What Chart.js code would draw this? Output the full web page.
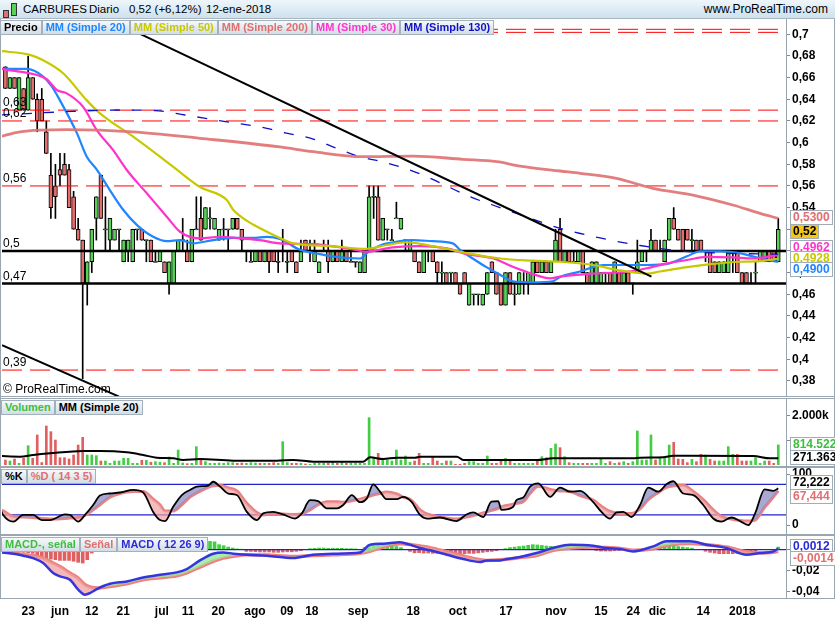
<!DOCTYPE html>
<html>
<head>
<meta charset="utf-8">
<script src="https://cdn.jsdelivr.net/npm/chart.js@4.4.1/dist/chart.umd.min.js"></script>
<style>
  body { margin: 0; width: 835px; height: 620px; position: relative; overflow: hidden; background: #fff;
         font-family: "Liberation Sans", Arial, sans-serif; }
  canvas { position: absolute; left: 0; }
  .hdr { position: absolute; left: 0; top: 0; width: 835px; height: 18px; font-size: 11.5px; line-height: 18px;
         background: linear-gradient(#eef6fb, #cde1ed); border-bottom: 1px solid #a9b6bf; z-index: 6; }
  .hdr span { position: absolute; top: 0; }
  .ico { position: absolute; border: 1px solid #333; }
  .row { position: absolute; left: 0; display: flex; z-index: 5; }
  .lg { height: 13px; line-height: 13px; font-weight: bold; font-size: 11px; padding: 0 3px; white-space: nowrap;
        background: linear-gradient(#f6f9fb, #d2dde5); border: 1px solid #a2b1bc; }
  .vb { position: absolute; left: 790px; height: 13px; line-height: 13px; font-weight: bold; font-size: 12px;
        padding: 0 2px; background: #fff; border: 1px solid #a0acb6; z-index: 5; white-space: nowrap; }
  .sep { position: absolute; background: #9aa6b0; z-index: 4; }
</style>
</head>
<body>
<canvas id="price"></canvas>
<canvas id="volume"></canvas>
<canvas id="stoch"></canvas>
<canvas id="macd"></canvas>

<div class="hdr">
  <div class="ico" style="left:3px;top:10px;width:4px;height:6px;background:#e46e6e"></div>
  <div class="ico" style="left:11px;top:3px;width:4px;height:11px;background:#57d157"></div>
  <span style="left:23px">CARBURES</span>
  <span style="left:89px">Diario</span>
  <span style="left:129px">0,52 (+6,12%)</span>
  <span style="left:206px">12-ene-2018</span>
  <span style="right:7px;font-size:12px">www.ProRealTime.com</span>
</div>

<div class="row" style="top:20px">
  <span class="lg" style="color:#000">Precio</span>
  <span class="lg" style="color:#1f86ff">MM (Simple 20)</span>
  <span class="lg" style="color:#c8c800">MM (Simple 50)</span>
  <span class="lg" style="color:#e07070">MM (Simple 200)</span>
  <span class="lg" style="color:#ff33cc">MM (Simple 30)</span>
  <span class="lg" style="color:#1010c8">MM (Simple 130)</span>
</div>
<div class="row" style="top:400px;left:1px">
  <span class="lg" style="color:#3cbf3c">Volumen</span>
  <span class="lg" style="color:#000">MM (Simple 20)</span>
</div>
<div class="row" style="top:469px;left:1px">
  <span class="lg" style="color:#000">%K</span>
  <span class="lg" style="color:#e07070">%D ( 14 3 5)</span>
</div>
<div class="row" style="top:537px;left:1px">
  <span class="lg" style="color:#3cbf3c">MACD-, señal</span>
  <span class="lg" style="color:#e07070">Señal</span>
  <span class="lg" style="color:#2a2ad8">MACD ( 12 26 9)</span>
</div>

<div style="position:absolute;left:3px;top:382px;font-size:12px;z-index:5">© ProRealTime.com</div>

<div class="vb" style="top:210px;color:#e07070">0,5300</div>
<div class="vb" style="top:224px;color:#000;background:#f5c518">0,52</div>
<div class="vb" style="top:240px;color:#ff33cc">0,4962</div>
<div class="vb" style="top:251px;color:#c8c800">0,4928</div>
<div class="vb" style="top:262px;color:#1f86ff">0,4900</div>
<div class="vb" style="top:437px;color:#3cbf3c">814.522</div>
<div class="vb" style="top:450px;color:#000">271.363</div>
<div class="vb" style="top:475px;color:#000">72,222</div>
<div class="vb" style="top:489px;color:#e07070">67,444</div>
<div class="vb" style="top:539px;color:#2a2ad8">0,0012</div>
<div class="vb" style="top:551px;color:#e07070">-0,0014</div>

<div class="sep" style="left:0;top:396px;width:835px;height:1px"></div>
<div class="sep" style="left:0;top:398px;width:835px;height:1px"></div>
<div class="sep" style="left:0;top:466px;width:835px;height:2px"></div>
<div class="sep" style="left:0;top:534px;width:835px;height:2px"></div>
<div class="sep" style="left:0;top:598px;width:835px;height:1px"></div>
<div class="sep" style="left:0;top:18px;width:1px;height:581px"></div>
<div class="sep" style="left:834px;top:18px;width:1px;height:581px"></div>

<script>
// one candle per trading day, 16-may-2017 .. 12-ene-2018: [open, high, low, close]
const candles = [
  [0.67,0.67,0.65,0.65],[0.65,0.66,0.65,0.66],[0.66,0.66,0.65,0.65],[0.63,0.66,0.63,0.66],[0.65,0.65,0.63,0.63],
  [0.63,0.68,0.63,0.66],[0.66,0.66,0.64,0.64],[0.64,0.645,0.61,0.62],[0.64,0.65,0.62,0.62],[0.61,0.62,0.59,0.59],
  [0.57,0.59,0.53,0.54],[0.56,0.58,0.53,0.55],[0.575,0.59,0.56,0.57],[0.58,0.59,0.57,0.57],[0.575,0.58,0.54,0.54],
  [0.55,0.555,0.52,0.52],[0.52,0.53,0.51,0.51],[0.51,0.51,0.382,0.47],[0.47,0.49,0.45,0.49],[0.49,0.52,0.48,0.52],
  [0.53,0.55,0.51,0.55],[0.57,0.57,0.53,0.53],[0.52,0.55,0.50,0.52],[0.51,0.53,0.50,0.53],[0.51,0.52,0.51,0.52],
  [0.52,0.52,0.50,0.52],[0.49,0.51,0.49,0.51],[0.50,0.51,0.49,0.51],[0.49,0.52,0.49,0.52],[0.52,0.52,0.51,0.52],
  [0.52,0.52,0.51,0.51],[0.51,0.51,0.49,0.51],[0.51,0.51,0.49,0.49],[0.49,0.50,0.49,0.49],[0.49,0.50,0.49,0.50],
  [0.49,0.49,0.48,0.48],[0.47,0.49,0.46,0.49],[0.47,0.50,0.47,0.50],[0.50,0.51,0.50,0.51],[0.51,0.53,0.50,0.51],
  [0.50,0.51,0.49,0.49],[0.49,0.52,0.49,0.52],[0.52,0.55,0.52,0.52],[0.53,0.55,0.51,0.51],[0.52,0.54,0.52,0.54],
  [0.53,0.54,0.52,0.53],[0.52,0.53,0.52,0.53],[0.51,0.52,0.51,0.52],[0.52,0.53,0.51,0.52],[0.52,0.52,0.50,0.52],
  [0.52,0.53,0.52,0.53],[0.53,0.53,0.52,0.52],[0.52,0.52,0.50,0.51],[0.50,0.50,0.49,0.50],[0.49,0.50,0.49,0.49],
  [0.49,0.50,0.49,0.50],[0.50,0.50,0.49,0.49],[0.49,0.50,0.49,0.50],[0.50,0.50,0.48,0.49],[0.50,0.50,0.49,0.49],
  [0.49,0.50,0.48,0.49],[0.50,0.52,0.49,0.50],[0.49,0.50,0.48,0.49],[0.50,0.50,0.49,0.49],[0.49,0.49,0.48,0.48],
  [0.49,0.51,0.49,0.50],[0.51,0.51,0.50,0.50],[0.50,0.51,0.49,0.50],[0.49,0.51,0.49,0.50],[0.48,0.49,0.48,0.49],
  [0.50,0.51,0.50,0.50],[0.50,0.51,0.48,0.49],[0.49,0.50,0.49,0.50],[0.50,0.50,0.49,0.49],[0.49,0.51,0.49,0.50],
  [0.50,0.50,0.49,0.49],[0.49,0.50,0.49,0.49],[0.49,0.49,0.485,0.49],[0.48,0.49,0.48,0.49],[0.48,0.50,0.48,0.50],
  [0.50,0.56,0.50,0.55],[0.55,0.56,0.53,0.55],[0.55,0.56,0.51,0.51],[0.51,0.53,0.51,0.53],[0.52,0.52,0.51,0.52],
  [0.51,0.52,0.51,0.51],[0.53,0.545,0.53,0.53],[0.52,0.53,0.52,0.53],[0.51,0.51,0.50,0.51],[0.50,0.51,0.50,0.51],
  [0.50,0.50,0.49,0.49],[0.49,0.49,0.48,0.48],[0.48,0.50,0.48,0.50],[0.50,0.50,0.49,0.50],[0.50,0.50,0.49,0.49],
  [0.49,0.49,0.47,0.48],[0.48,0.49,0.47,0.48],[0.48,0.48,0.47,0.47],[0.48,0.48,0.47,0.48],[0.48,0.48,0.47,0.47],
  [0.47,0.47,0.46,0.46],[0.48,0.48,0.47,0.47],[0.45,0.47,0.45,0.47],[0.46,0.46,0.45,0.46],[0.46,0.46,0.45,0.46],
  [0.45,0.46,0.45,0.46],[0.46,0.48,0.46,0.48],[0.49,0.49,0.48,0.48],[0.48,0.48,0.46,0.46],[0.47,0.47,0.45,0.45],
  [0.45,0.48,0.45,0.48],[0.48,0.48,0.46,0.46],[0.46,0.47,0.45,0.46],[0.46,0.48,0.46,0.48],[0.47,0.48,0.46,0.47],
  [0.47,0.48,0.46,0.48],[0.47,0.49,0.47,0.49],[0.49,0.49,0.48,0.48],[0.48,0.49,0.48,0.49],[0.49,0.49,0.48,0.48],
  [0.48,0.49,0.48,0.49],[0.49,0.52,0.49,0.51],[0.52,0.53,0.49,0.49],[0.49,0.50,0.49,0.50],[0.50,0.50,0.49,0.49],
  [0.49,0.50,0.49,0.49],[0.49,0.50,0.49,0.50],[0.50,0.50,0.48,0.48],[0.48,0.48,0.47,0.47],[0.47,0.49,0.47,0.49],
  [0.47,0.49,0.47,0.49],[0.47,0.48,0.47,0.48],[0.48,0.48,0.47,0.48],[0.48,0.48,0.47,0.47],[0.47,0.49,0.47,0.49],
  [0.48,0.48,0.47,0.47],[0.47,0.48,0.47,0.48],[0.48,0.48,0.47,0.47],[0.47,0.47,0.46,0.47],[0.48,0.51,0.48,0.49],
  [0.49,0.50,0.49,0.50],[0.50,0.50,0.49,0.50],[0.50,0.52,0.50,0.51],[0.51,0.51,0.50,0.50],[0.50,0.51,0.50,0.50],
  [0.49,0.51,0.49,0.51],[0.51,0.53,0.51,0.53],[0.53,0.54,0.52,0.52],[0.52,0.52,0.51,0.51],[0.52,0.52,0.50,0.50],
  [0.52,0.52,0.51,0.51],[0.51,0.52,0.50,0.51],[0.51,0.51,0.50,0.50],[0.51,0.51,0.50,0.50],[0.50,0.50,0.49,0.50],
  [0.50,0.50,0.48,0.48],[0.49,0.49,0.48,0.48],[0.48,0.49,0.48,0.49],[0.48,0.49,0.48,0.49],[0.48,0.50,0.48,0.50],
  [0.49,0.50,0.48,0.49],[0.50,0.50,0.48,0.48],[0.48,0.48,0.47,0.47],[0.48,0.48,0.47,0.47],[0.47,0.48,0.47,0.47],
  [0.48,0.49,0.47,0.48],[0.49,0.50,0.49,0.50],[0.49,0.50,0.49,0.50],[0.50,0.50,0.49,0.49],[0.50,0.50,0.49,0.49],
  [0.49,0.53,0.49,0.52]
];

// daily volume, thousands of shares
const volumes = [
  203,162,243,68,270,784,270,1217,100,1582, 1352,1014,297,297,243,406,811,1122,406,406,
  379,162,162,68,162,162,270,270,68,68, 189,189,108,135,108,95,324,68,608,81,
  54,68,744,270,135,68,68,81,68,95, 95,68,81,68,95,81,68,68,68,95,
  68,946,95,68,68,68,41,27,68,68, 68,68,135,68,135,68,68,68,68,68,
  1920,270,473,203,203,162,608,203,365,108, 162,473,68,68,338,162,68,162,162,30,
  27,68,135,135,68,68,365,68,68,230, 270,203,68,68,68,68,68,230,338,297,
  676,852,703,338,95,68,68,68,68,68, 68,270,68,135,68,95,135,68,135,1379,
  203,203,1217,203,297,297,811,919,243,230, 95,230,135,433,406,230,162,162,162,744,
  433,433,162,162,162,297,68,162,162,68, 815
];

// moving averages: [day index, value]
const ma20 = [[-1.2,0.668],[4.7,0.668],[8.3,0.661],[10.2,0.652],[12,0.639],[15.7,0.609],[17.9,0.587],[20.1,0.575],
  [23,0.556],[25.9,0.538],[28.9,0.524],[32.5,0.513],[35.5,0.509],[38.4,0.510],[41.3,0.507],[45.7,0.510],[50.1,0.512],
  [54.5,0.512],[57.5,0.513],[60.4,0.511],[64.8,0.501],[69.2,0.497],[73.6,0.494],[78,0.493],[79.5,0.498],[82.4,0.505],
  [86.8,0.509],[89.6,0.510],[94,0.509],[98.4,0.507],[100,0.501],[102.8,0.493],[105.8,0.485],[108.8,0.478],[111.6,0.472],
  [116,0.471],[120.4,0.472],[122,0.476],[126.4,0.481],[129.2,0.485],[131.4,0.487],[136.7,0.487],[141.1,0.487],
  [145.5,0.488],[149.9,0.495],[152.8,0.4995],[157.2,0.4995],[161.5,0.498],[164.4,0.495],[167.5,0.492],[170,0.490]];
const ma50 = [[-1.2,0.6846],[5.4,0.681],[8.3,0.676],[12.7,0.664],[17.9,0.639],[20.8,0.627],[28.1,0.6055],[34,0.587],
  [37.7,0.575],[42.8,0.559],[48.7,0.547],[50.1,0.538],[52.9,0.5285],[56,0.521],[60.4,0.512],[63.3,0.507],[71.4,0.5045],
  [79.5,0.502],[83.9,0.5055],[88.3,0.508],[92.7,0.5055],[97.1,0.502],[101.5,0.498],[108.8,0.493],[116,0.491],[122,0.490],
  [129.2,0.487],[135.2,0.482],[141.1,0.479],[144,0.481],[149.9,0.485],[155.6,0.488],[161.5,0.490],[166,0.4905],[170,0.4928]];
const ma200 = [[-1.2,0.6055],[3.2,0.610],[13.5,0.612],[28.1,0.610],[42.8,0.604],[60.4,0.596],[67.7,0.5916],[78.6,0.587],
  [89.6,0.5876],[100.6,0.5846],[108.1,0.5824],[113.2,0.5784],[122,0.5738],[126.4,0.5717],[134.4,0.567],[142.4,0.5578],
  [151.2,0.5516],[160,0.5424],[166,0.5347],[170,0.530]];
const ma30 = [[-1.2,0.668],[3.2,0.6655],[6.9,0.6624],[9.1,0.6585],[11.3,0.6486],[13.5,0.6455],[17.1,0.633],[20.1,0.6116],
  [23.7,0.593],[26.7,0.5747],[31.1,0.5532],[35.5,0.5316],[38.4,0.5177],[42.8,0.5116],[47.2,0.5131],[51.6,0.5116],
  [56,0.510],[60.4,0.507],[67.7,0.5063],[75.1,0.5024],[79.5,0.4993],[85.2,0.5033],[91.2,0.5045],[97.1,0.5024],
  [101.5,0.4971],[107.2,0.4932],[111.6,0.4854],[116,0.4787],[119.8,0.4747],[122,0.4762],[129.2,0.479],[136.7,0.4808],
  [141.1,0.484],[145.5,0.4885],[149.9,0.4916],[154.3,0.4946],[160,0.494],[164.4,0.4931],[170,0.4962]];
const ma130 = [[-1.2,0.6255],[12,0.6283],[25.2,0.6301],[32.9,0.6296],[39.5,0.6255],[46.1,0.6209],[57.5,0.6132],
  [61.5,0.6091],[67.7,0.6033],[72.9,0.5947],[78,0.587],[82.8,0.5824],[87.9,0.5763],[92.7,0.5685],[97.4,0.5593],
  [102.2,0.55],[107.2,0.5424],[112.4,0.5347],[122,0.5209],[130.8,0.512],[139.6,0.505],[148.3,0.500],[157.2,0.498],[170,0.497]];
const volAvg = [[-1.2,365],[3.2,338],[6.1,406],[9.8,473],[17.1,568],[20.8,568],[26.7,514],[30.3,406],[33.3,297],
  [36.9,270],[39.1,203],[42.8,243],[50.1,176],[59.7,176],[63.3,203],[67.7,135],[72.1,135],[78.7,135],[80.2,311],
  [83.1,243],[86.1,297],[90.1,297],[91.2,338],[99.3,338],[100.7,203],[116.9,203],[120.5,270],[138.1,270],[139.6,297],
  [144.7,311],[146.9,379],[164.5,365],[168.2,270],[170,271]];

// drawn lines on the price panel
const trendDown = [[28,0.7036],[142.1,0.4762]];
const trendLow = [[-0.75,0.413],[25,0.3655]];
const redLevels = [0.7046, 0.7018, 0.63, 0.62, 0.56, 0.39];
const blackLevels = [0.5, 0.47];
const levelLabels = [[0.63,'0,63'],[0.62,'0,62'],[0.56,'0,56'],[0.5,'0,5'],[0.47,'0,47'],[0.39,'0,39']];

// stochastic %K / %D (14 3 5)
const stochX = [-1.2,-0.5,1.75,3.9,6.1,8.0,9.8,13.1,14.2,16.0,17.5,19.3,20.8,23.0,25.2,28.1,30.3,32.5,34.0,35.1,
  36.9,38.8,40.6,42.1,44.6,45.7,47.2,49.0,50.9,53.1,55.3,56.7,58.9,61.1,63.7,65.2,67.0,68.8,70.7,72.9,
  74.3,76.2,78.0,79.5,80.9,82.4,83.8,86.1,87.5,89.3,91.2,92.7,95.6,99.2,101.4,102.9,105.1,106.9,108.4,109.1,
  111.7,112.4,113.9,115.4,117.2,119.8,122.0,124.2,126.4,129.3,131.1,133.0,134.4,135.9,137.7,139.6,141.4,143.6,145.4,146.9,
  149.1,151.3,153.5,155.7,157.5,159.7,161.6,163.4,164.9,167.0,168.9,170.0];
const stochK = [33,20,7,20,20,10,10,21,20,7,20,39.5,58,62,64,69,64,26,10,8,
  36,59,69,75.6,77.6,85,75.6,62,59,26,10,23,26,21,13,23,49,47,33,33,
  39.5,59,45,52.5,80,65.6,51,51,55.5,46,20,13,15,8,21,25,16,46,47,30,
  36,49,54,75.6,82,55.5,73.6,65.6,67,45,26,13,25,26,16,39.5,73.6,65.6,80,86,
  62,59,39.5,13,7,15,8,0,23,70,67,72.2];
const stochD = [30,28,17,16,15,13,12,13,14,15,19,30,40,55,62,66,66,51,40,28,
  28,40,55,63,74,77,78,73,67,43,25,20,23,22,21,22,30,40,46,46,
  45,48,51,55,59,62,65,61,55,49,30,22,16,12,16,19,24,29,33,36,
  41,43,46,62,76,70,67,66,58,49,37,27,24,23,23,32,50,64,74,77,
  78,66,50,30,17,12,9,8,10,35,55,67.4];
const stochLevels = [80, 20];

// MACD (12 26 9)
const macdX = [-1.2,1.75,3.9,6.1,8.3,10.5,12,14.2,16,17.5,18.6,20.1,23,26.7,30.3,34,37.7,39.9,42.8,45.7,
  47.9,50.1,53.1,57.5,63.3,67.7,72.1,78,80.2,83.1,86.8,89,91.2,93.4,97.1,100.7,104.4,105.9,108.8,110.3,
  113.2,116.8,120.5,124.2,129.3,132.2,135.2,138.1,142.5,145.4,148.3,150.6,154.2,158.6,163,166,169,170];
const macdLine = [-0.0026,-0.0038,-0.0057,-0.008,-0.0127,-0.0222,-0.0254,-0.0286,-0.038,-0.0428,
  -0.0413,-0.0375,-0.0324,-0.0302,-0.0264,-0.0238,-0.0216,-0.0184,-0.0102,-0.0038,
  -0.0026,-0.0038,-0.0048,-0.0057,-0.008,-0.0048,-0.0038,-0.0026,0.0048,0.0057,
  0.007,0.0048,0.0016,-0.0006,-0.0048,-0.0089,-0.0117,-0.0102,-0.0102,-0.0089,
  -0.007,-0.0032,0.0016,0.0048,0.0038,0.0016,0.0006,-0.0016,0.0032,0.008,
  0.008,0.008,0.0048,0.0016,-0.0048,-0.0032,-0.0016,0.0012];
const macdSignal = [-0.0019,-0.003,-0.0045,-0.0057,-0.008,-0.0127,-0.016,-0.0222,-0.027,-0.0333,
  -0.0355,-0.0365,-0.035,-0.0324,-0.0286,-0.0267,-0.0248,-0.022,-0.0165,-0.011,
  -0.008,-0.0062,-0.0048,-0.005,-0.0064,-0.0055,-0.0048,-0.0035,-0.0015,0.0025,
  0.0057,0.005,0.0035,0.002,-0.002,-0.006,-0.0095,-0.0102,-0.0095,-0.009,
  -0.0075,-0.0055,-0.0006,0.0015,0.0026,0.002,0.0012,-0.0005,0.001,0.004,
  0.0057,0.006,0.0048,0.0025,-0.002,-0.0032,-0.0025,-0.0014];
const macdHist = [[0,-0.0005],[1,-0.0006],[2,-0.0008],[3,-0.0015],[4,-0.0025],[5,-0.003],[6,-0.0035],[7,-0.0048],
  [8,-0.007],[9,-0.0085],[10,-0.0089],[11,-0.0095],[12,-0.0102],[13,-0.0102],[14,-0.0102],[15,-0.011],[16,-0.012],
  [17,-0.0127],[18,-0.0095],[19,-0.0032],[20,0.002],[21,0.004],[22,0.005],[23,0.005],[24,0.004],[25,0.003],[26,0.003],
  [27,0.003],[28,0.003],[29,0.003],[30,0.003],[31,0.003],[32,0.003],[33,0.003],[34,0.003],[35,0.003],[36,0.003],
  [37,0.003],[38,0.004],[39,0.005],[40,0.006],[41,0.007],[42,0.008],[43,0.0079],[44,0.0079],[45,0.0079],[46,0.0075],
  [47,0.0048],[48,0.0038],[49,0.0025],[50,0.0016],[51,0.0008],[52,0.0003],[53,-0.0016],[54,-0.0016],[55,-0.0019],
  [56,-0.0022],[57,-0.0022],[58,-0.0022],[59,-0.0025],[60,-0.0025],[61,-0.0022],[62,-0.002],[63,-0.002],[64,-0.0016],
  [65,-0.001],[67,0.001],[68,0.0013],[69,0.0016],[70,0.0016],[71,0.0013],[72,0.0013],[73,0.0013],[74,0.0013],
  [75,0.001],[76,0.001],[77,0.0008],[79,0.002],[80,0.0045],[81,0.0048],[82,0.0048],[83,0.0045],[84,0.004],[85,0.0035],
  [86,0.003],[87,0.002],[89,-0.0016],[90,-0.003],[91,-0.0028],[92,-0.0032],[93,-0.0032],[94,-0.0035],[95,-0.0035],
  [96,-0.0038],[97,-0.0038],[98,-0.0038],[99,-0.0038],[100,-0.0038],[101,-0.0038],[102,-0.0035],[103,-0.0035],
  [104,-0.003],[105,-0.0025],[106,-0.002],[107,-0.0016],[108,-0.001],[110,0.001],[111,0.002],[112,0.0025],[113,0.003],
  [114,0.0035],[115,0.0042],[116,0.0048],[117,0.0045],[118,0.004],[119,0.0035],[120,0.0032],[121,0.0032],[122,0.003],
  [123,0.003],[124,0.0028],[125,0.0025],[126,0.002],[130,-0.0008],[131,-0.0013],[132,-0.0013],[133,-0.0013],
  [134,-0.001],[135,-0.0008],[144,0.002],[145,0.003],[146,0.0038],[147,0.0035],[148,0.003],[149,0.0025],[150,0.002],
  [151,0.0015],[154,-0.0015],[155,-0.0025],[156,-0.0032],[157,-0.0038],[158,-0.0038],[159,-0.0038],[160,-0.0038],
  [161,-0.0035],[162,-0.0035],[163,-0.003],[164,-0.0025],[165,-0.0015],[170,0.0025]];

// axis ticks
const dateTicks = [[5,'23'],[12,'jun'],[19,'12'],[25.9,'21'],[34.4,'jul'],[40.2,'11'],[46.8,'20'],[54.9,'ago'],
  [61.9,'09'],[67.4,'18'],[77.6,'sep'],[89.7,'18'],[99.5,'oct'],[110.1,'17'],[121.1,'nov'],[131,'15'],[138.1,'24'],
  [143.4,'dic'],[153.5,'14'],[162.1,'2018']];
const priceTicks = [0.38,0.39,0.40,0.41,0.42,0.43,0.44,0.45,0.46,0.47,0.48,0.49,0.50,0.51,0.52,0.53,0.54,
  0.55,0.56,0.57,0.58,0.59,0.60,0.61,0.62,0.63,0.64,0.65,0.66,0.67,0.68,0.69,0.70];
const volTicks = [1000, 2000];
const stochTicks = [0, 100];
const macdTicks = [-0.04, -0.03, -0.02, -0.01, 0];

const X_MIN = -0.75, X_MAX = 171.7;
const GREEN = '#57d157', RED = '#e46e6e';
Chart.defaults.font.family = '"Liberation Sans", Arial, sans-serif';
Chart.defaults.font.size = 12;

const pts = arr => arr.map(([x, y]) => ({ x, y }));
const zip = (xs, ys) => xs.map((x, i) => ({ x, y: ys[i] }));
const isUp = c => c[3] >= c[0];

function line(data, color, width, extra) {
  return Object.assign({
    type: 'line', data, borderColor: color, borderWidth: width, pointRadius: 0,
    fill: false, cubicInterpolationMode: 'monotone', order: 3
  }, extra || {});
}
function hline(v, color, width, dash) {
  return line([{ x: X_MIN, y: v }, { x: X_MAX, y: v }], color, width, { borderDash: dash || [], order: 6 });
}

function xAxis(show) {
  return {
    type: 'linear', min: X_MIN, max: X_MAX, offset: false, display: show,
    afterBuildTicks: s => { s.ticks = dateTicks.map(t => ({ value: t[0] })); },
    afterFit: s => { if (show) s.height = 22; },
    grid: { display: false, drawTicks: false },
    border: { display: false },
    ticks: { autoSkip: false, maxRotation: 0, padding: 6, color: '#000',
      font: { size: 12, weight: 'bold' }, callback: (v, i) => dateTicks[i][1] }
  };
}
function yAxis(min, max, ticks, label) {
  return {
    position: 'right', min, max,
    afterBuildTicks: s => { s.ticks = ticks.map(v => ({ value: v })); },
    afterFit: s => { s.width = 49; },
    grid: { drawOnChartArea: false, tickLength: 4, color: '#7f8a93' },
    border: { color: '#98a4ae' },
    ticks: { callback: label, color: '#000', padding: 2, font: { size: 12, weight: 'bold' } }
  };
}

function makeChart(id, top, height, padBottom, datasets, y, showX, plugins) {
  const cv = document.getElementById(id);
  cv.width = 835; cv.height = height; cv.style.top = top + 'px';
  return new Chart(cv, {
    type: 'line',
    data: { datasets },
    options: {
      responsive: false, animation: false, events: [],
      layout: { padding: { left: 2, right: 0, top: 10, bottom: padBottom } },
      plugins: { legend: { display: false }, tooltip: { enabled: false } },
      scales: { x: xAxis(showX), y }
    },
    plugins: plugins || []
  });
}

// left-hand labels of the drawn levels
const levelText = {
  id: 'levelText',
  afterDatasetsDraw(chart) {
    const { ctx, chartArea, scales } = chart;
    ctx.save();
    ctx.font = '12px "Liberation Sans", Arial, sans-serif';
    ctx.fillStyle = '#000';
    ctx.textBaseline = 'bottom';
    levelLabels.forEach(([v, t]) => ctx.fillText(t, chartArea.left + 1, scales.y.getPixelForValue(v) - 1));
    ctx.restore();
  }
};

const priceLabel = v => {
  const cents = Math.round(v * 100);
  return cents % 2 === 0 ? v.toFixed(2).replace(/0$/, '').replace('.', ',') : '';
};

// price panel
makeChart('price', 9, 397, 10, [
  { type: 'bar', grouped: false, order: 10, barThickness: 1, backgroundColor: '#000',
    data: candles.map((c, i) => ({ x: i, y: [c[2], c[1]] })) },
  { type: 'bar', grouped: false, order: 9, barThickness: 4, borderWidth: 1, borderColor: '#000', borderSkipped: false,
    backgroundColor: ctx => isUp(candles[ctx.dataIndex]) ? GREEN : RED,
    data: candles.map((c, i) => ({ x: i, y: c[0] === c[3] ? [c[0] - 0.0005, c[0] + 0.0005] : [c[0], c[3]] })) },
  ...redLevels.map(v => hline(v, '#ff0000', 1, [20, 8])),
  ...blackLevels.map(v => hline(v, '#000', 2.5)),
  line(pts(ma200), 'rgba(224,112,112,0.9)', 2.8),
  line(pts(ma130), '#1010c8', 1.3, { borderDash: [10, 12] }),
  line(pts(ma50), '#c8c800', 2.2),
  line(pts(ma30), '#ff33cc', 2.2),
  line(pts(ma20), '#1f86ff', 2.2),
  line(pts(trendDown), '#000', 2, { order: 2 }),
  line(pts(trendLow), '#000', 2, { order: 2 })
], yAxis(0.36606, 0.71413, priceTicks, priceLabel), false, [levelText]);

// volume panel
makeChart('volume', 389, 86, 10, [
  { type: 'bar', grouped: false, order: 10, barThickness: 2,
    backgroundColor: ctx => isUp(candles[ctx.dataIndex]) ? '#44cc44' : '#e06060',
    data: volumes.map((v, i) => ({ x: i, y: v })) },
  line(pts(volAvg), '#000', 2)
], yAxis(0, 2677, volTicks, v => v === 2000 ? '2.000k' : ''), false);

// stochastic panel
makeChart('stoch', 457, 86, 10, [
  line(zip(stochX, stochK), '#000', 1.8, { order: 1,
    fill: { target: 1, above: 'rgba(140,140,196,0.75)', below: 'rgba(240,160,160,0.7)' } }),
  line(zip(stochX, stochD), '#ec8080', 3, { order: 2 }),
  ...stochLevels.map(v => hline(v, '#2222cc', 1.2))
], yAxis(-15.3, 113.9, stochTicks, v => v === 100 ? '100' : v === 0 ? '0' : ''), false);

// MACD panel
makeChart('macd', 525, 95, 0, [
  line(zip(macdX, macdLine), '#3535e0', 2.5, { order: 1,
    fill: { target: 1, above: 'rgba(150,232,150,0.8)', below: 'rgba(240,160,160,0.75)' } }),
  line(zip(macdX, macdSignal), '#f08080', 3.5, { order: 2 }),
  { type: 'bar', grouped: false, order: 10, barThickness: 3,
    backgroundColor: ctx => macdHist[ctx.dataIndex][1] >= 0 ? '#44cc44' : '#e06060',
    data: pts(macdHist) },
  hline(0, '#2222cc', 1.2)
], yAxis(-0.046, 0.014, macdTicks, v => {
  const k = Math.round(v * 100);
  return k === -2 ? '-0,02' : k === -4 ? '-0,04' : '';
}), true);
</script>
</body>
</html>
